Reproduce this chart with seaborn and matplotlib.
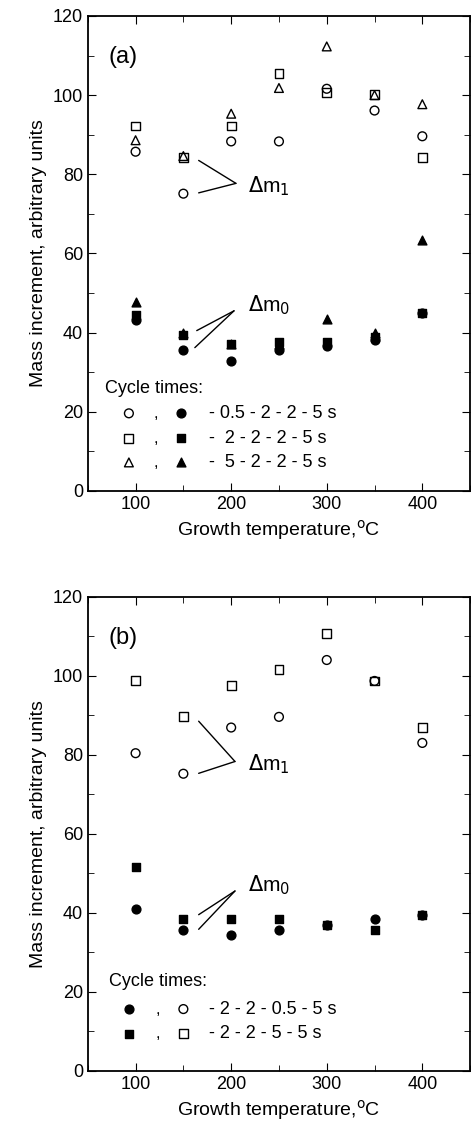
import matplotlib
matplotlib.use("Agg")
import matplotlib.pyplot as plt
import seaborn as sns
from matplotlib.ticker import MultipleLocator

temps = [100, 150, 200, 250, 300, 350, 400]

# panel (a)
a_m1_circ = [85.7, 75.1, 88.3, 88.3, 101.6, 96.1, 89.6]
a_m1_sq = [92.2, 84.3, 92.2, 105.5, 100.7, 100.2, 84.2]
a_m1_tri = [88.6, 84.6, 95.3, 101.8, 112.3, 100.0, 97.7]
a_m0_circ = [43.3, 35.6, 32.9, 35.5, 36.6, 38.1, 45.0]
a_m0_sq = [44.5, 39.5, 37.0, 37.5, 37.5, 39.0, 45.0]
a_m0_tri = [47.7, 40.0, 37.0, 37.0, 43.5, 39.8, 63.5]
a_legend = ["- 0.5 - 2 - 2 - 5 s", "-  2 - 2 - 2 - 5 s", "-  5 - 2 - 2 - 5 s"]

# panel (b)
b_m1_circ = [80.4, 75.2, 86.9, 89.6, 104.0, 98.7, 83.0]
b_m1_sq = [98.9, 89.6, 97.5, 101.5, 110.7, 98.7, 86.9]
b_m0_circ = [40.9, 35.7, 34.4, 35.7, 37.0, 38.3, 39.5]
b_m0_sq = [51.5, 38.3, 38.3, 38.3, 37.0, 35.7, 39.5]
b_legend = ["- 2 - 2 - 0.5 - 5 s", "- 2 - 2 - 5 - 5 s"]

sns.set_style("ticks")
plt.rcParams["font.family"] = ["Liberation Sans", "DejaVu Sans"]
plt.rcParams["text.color"] = "black"
plt.rcParams["axes.labelcolor"] = "black"
plt.rcParams["xtick.color"] = "black"
plt.rcParams["ytick.color"] = "black"

fig = plt.figure(figsize=(4.72, 11.39), dpi=100)
ax_a = fig.add_axes([0.186, 0.569, 0.81, 0.417])
ax_b = fig.add_axes([0.186, 0.060, 0.81, 0.416])

S = 40


def pts(ax, y, marker, filled):
    sns.scatterplot(x=temps, y=y, ax=ax, marker=marker, s=S,
                    facecolor="black" if filled else "none",
                    edgecolor="black", linewidth=1.0, zorder=3)


def style(ax, label):
    ax.set_xlim(50, 450)
    ax.set_ylim(0, 120)
    ax.xaxis.set_major_locator(MultipleLocator(100))
    ax.xaxis.set_minor_locator(MultipleLocator(50))
    ax.yaxis.set_major_locator(MultipleLocator(20))
    ax.yaxis.set_minor_locator(MultipleLocator(10))
    ax.tick_params(which="both", direction="in", top=True, right=True, labelsize=13)
    ax.tick_params(which="major", length=6)
    ax.tick_params(which="minor", length=4)
    for sp in ax.spines.values():
        sp.set_linewidth(1.3)
        sp.set_color("black")
    ax.set_xlabel("Growth temperature,$^{\\rm o}$C", fontsize=14)
    ax.set_ylabel("Mass increment, arbitrary units", fontsize=14)
    ax.text(72, 108, label, fontsize=17)


for y, m, f in [(a_m1_circ, "o", False), (a_m1_sq, "s", False), (a_m1_tri, "^", False),
                (a_m0_circ, "o", True), (a_m0_sq, "s", True), (a_m0_tri, "^", True)]:
    pts(ax_a, y, m, f)
for y, m, f in [(b_m1_circ, "o", False), (b_m1_sq, "s", False),
                (b_m0_circ, "o", True), (b_m0_sq, "s", True)]:
    pts(ax_b, y, m, f)

style(ax_a, "(a)")
style(ax_b, "(b)")

# annotations (a)
ax_a.text(218, 77, "$\\Delta$m$_1$", fontsize=15, va="center")
ax_a.plot([166, 205], [83.5, 77.7], color="black", lw=1)
ax_a.plot([166, 205], [75.3, 77.7], color="black", lw=1)
ax_a.text(218, 47, "$\\Delta$m$_0$", fontsize=15, va="center")
ax_a.plot([164, 203], [40.5, 45.5], color="black", lw=1)
ax_a.plot([162, 203], [36.2, 45.5], color="black", lw=1)

# annotations (b)
ax_b.text(218, 77.5, "$\\Delta$m$_1$", fontsize=15, va="center")
ax_b.plot([166, 204], [88.5, 78.3], color="black", lw=1)
ax_b.plot([166, 204], [75.3, 78.3], color="black", lw=1)
ax_b.text(218, 47, "$\\Delta$m$_0$", fontsize=15, va="center")
ax_b.plot([166, 204], [39.5, 45.5], color="black", lw=1)
ax_b.plot([166, 204], [35.8, 45.5], color="black", lw=1)

# legend (a)
ax_a.text(68, 26, "Cycle times:", fontsize=13, va="center")
for i, (m, lab) in enumerate(zip(["o", "s", "^"], a_legend)):
    yy = [19.6, 13.3, 7.2][i]
    ax_a.scatter([93], [yy], marker=m, s=S, facecolor="none", edgecolor="black", lw=1)
    ax_a.text(119, yy - 1.2, ",", fontsize=12, va="baseline")
    ax_a.scatter([148], [yy], marker=m, s=S, facecolor="black", edgecolor="black", lw=1)
    ax_a.text(177, yy, lab, fontsize=13, va="center")

# legend (b)
ax_b.text(72, 22.5, "Cycle times:", fontsize=13, va="center")
for i, (m, lab) in enumerate(zip(["o", "s"], b_legend)):
    yy = [15.6, 9.4][i]
    ax_b.scatter([93], [yy], marker=m, s=S, facecolor="black", edgecolor="black", lw=1)
    ax_b.text(121, yy - 1.2, ",", fontsize=12, va="baseline")
    ax_b.scatter([150], [yy], marker=m, s=S, facecolor="none", edgecolor="black", lw=1)
    ax_b.text(177, yy, lab, fontsize=13, va="center")

fig.savefig("out.png", dpi=100)
